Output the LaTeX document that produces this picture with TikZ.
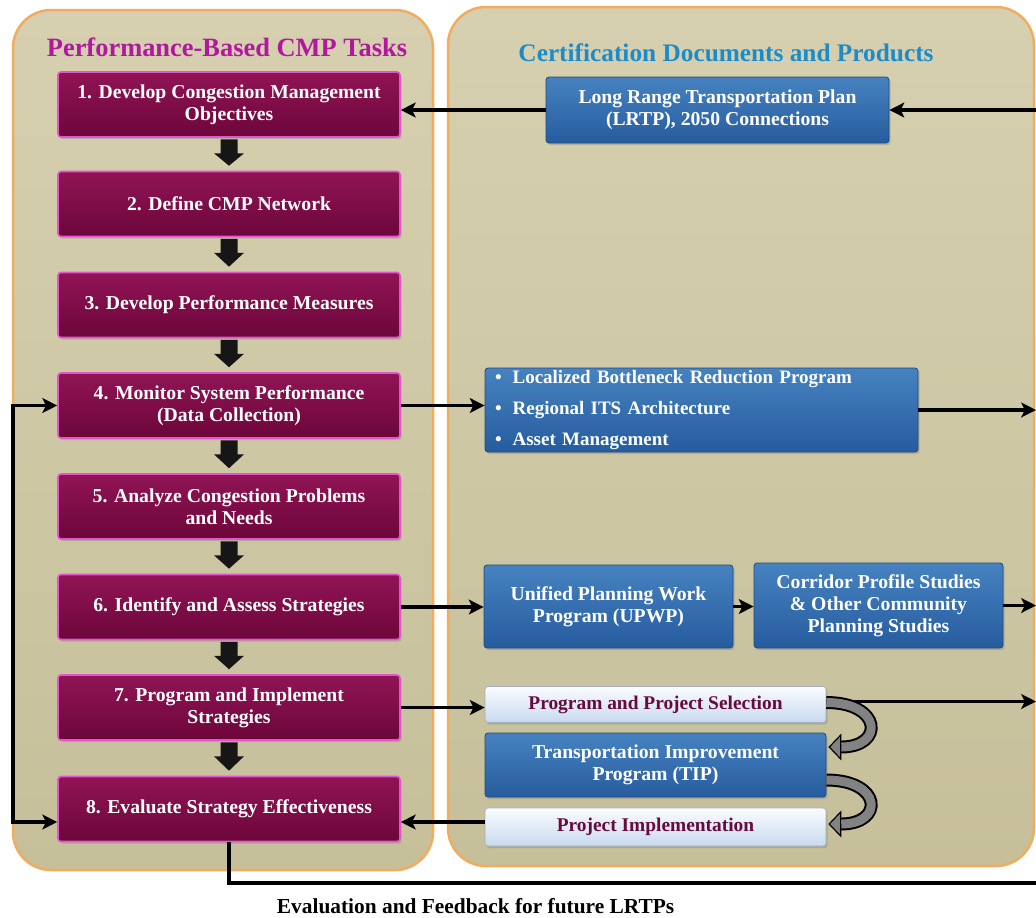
\documentclass[tikz,border=0pt]{standalone}
\usepackage{fontspec}
\setmainfont{Liberation Serif}
\usetikzlibrary{arrows.meta,calc,shadings,shadows}
\newdimen\PX \PX=0.025cm
\definecolor{panelA}{RGB}{214,208,176}
\definecolor{panelB}{RGB}{198,191,154}
\definecolor{panelborder}{RGB}{240,172,95}
\definecolor{ptop}{RGB}{145,20,85}
\definecolor{pbot}{RGB}{108,6,58}
\definecolor{pborder}{RGB}{228,85,205}
\definecolor{btop}{RGB}{70,130,192}
\definecolor{bbot}{RGB}{38,92,158}
\definecolor{bborder}{RGB}{30,75,130}
\definecolor{ltop}{RGB}{250,252,255}
\definecolor{lbot}{RGB}{200,218,238}
\definecolor{maroontxt}{RGB}{105,10,62}
\definecolor{ltitle}{RGB}{178,24,158}
\definecolor{rtitle}{RGB}{28,140,200}
\definecolor{grayarrow}{RGB}{130,130,130}
\tikzset{
  panelbox/.style={rounded corners=38\PX, draw=panelborder, line width=2.5\PX, top color=panelA, bottom color=panelB},
  shadowed/.style={drop shadow={shadow xshift=1.2pt, shadow yshift=-1.5pt, opacity=0.35}},
  pbox/.style={rounded corners=3\PX, draw=pborder, line width=1.6\PX, top color=ptop, bottom color=pbot, text=white,
    font=\bfseries\fontsize{14}{15.5}\selectfont, align=center, minimum width=342\PX, minimum height=65\PX, inner sep=0pt, shadowed},
  bbox/.style={rounded corners=3\PX, draw=bborder, line width=0.8\PX, top color=btop, bottom color=bbot, text=white,
    font=\bfseries\fontsize{14}{15.5}\selectfont, align=center, inner sep=0pt, shadowed},
  lbox/.style={rounded corners=3\PX, draw=lbot!80!black, line width=0.6\PX, top color=ltop, bottom color=lbot, text=maroontxt,
    font=\bfseries\fontsize{13.8}{15.5}\selectfont, align=center, minimum width=341\PX, inner sep=0pt, shadowed},
  conn/.style={line width=2.5pt, black, -{Stealth[length=10.5pt,width=10.5pt,inset=2.5pt]}},
  plain/.style={line width=2.7pt, black},
  dnarrow/.style={fill={rgb,255:red,22;green,22;blue,22}},
  curvout/.style={line width=9.2pt, black, -{Triangle[length=9.2pt,width=19pt,fill=grayarrow,line width=0.85pt]}},
  curvin/.style={line width=6.4pt, grayarrow, shorten >=9.2pt},
}
\begin{document}
\begin{tikzpicture}[x=0.025cm,y=-0.025cm]
\useasboundingbox (0,0) rectangle (1036,917);
% panels
\draw[panelbox] (13,10) rectangle (433,870);
\draw[panelbox] (448,7) rectangle (1034,866);
% titles
\node[font=\bfseries\fontsize{18.8}{20}\selectfont, text=ltitle] (tl) at (227,47) {Performance-Based CMP Tasks};
\node[font=\bfseries\fontsize{18}{20}\selectfont, text=rtitle] (tr) at (726,53) {Certification Documents and Products};
% purple task boxes
\node[pbox] (b1) at (229,104.5) {1. Develop Congestion Management\\Objectives};
\node[pbox] (b2) at (229,204) {2. Define CMP Network};
\node[pbox] (b3) at (229,305) {3. Develop Performance Measures};
\node[pbox] (b4) at (229,405.5) {4. Monitor System Performance\\(Data Collection)};
\node[pbox] (b5) at (229,506.5) {5. Analyze Congestion Problems\\and Needs};
\node[pbox] (b6) at (229,607) {6. Identify and Assess Strategies};
\node[pbox] (b7) at (229,707.5) {7. Program and Implement\\Strategies};
\node[pbox] (b8) at (229,809) {8. Evaluate Strategy Effectiveness};
% down block arrows
\foreach \i/\j in {1/2,2/3,3/4,4/5,5/6,6/7,7/8}{
  \fill[dnarrow] ($(b\i.south)+(-8.5,1.5)$) -- ++(17,0) -- ++(0,14) -- ++(6.5,0) -- ($(b\j.north)+(0,-5)$) -- ($(b\i.south)+(-15,15.5)$) -- ++(6.5,0) -- cycle;
}
% right side boxes
\node[bbox, minimum width=343\PX, minimum height=66\PX] (lrtp) at (717.5,110) {Long Range Transportation Plan\\(LRTP), 2050 Connections};
\node[bbox, minimum height=84\PX, text width=413\PX, inner xsep=10\PX, align=left, font=\bfseries\fontsize{13.5}{22}\selectfont] (bul) at (701.5,410)
  {\textbullet\hspace{11\PX}Localized Bottleneck Reduction Program\\\textbullet\hspace{11\PX}Regional ITS Architecture\\\textbullet\hspace{11\PX}Asset Management};
\node[bbox, minimum width=249\PX, minimum height=83\PX] (upwp) at (608.5,606.5) {Unified Planning Work\\Program (UPWP)};
\node[bbox, minimum width=249\PX, minimum height=85\PX] (cor) at (878.5,605.5) {Corridor Profile Studies\\\& Other Community\\Planning Studies};
\node[lbox, minimum height=36\PX] (ps) at (655.5,704.5) {Program and Project Selection};
\node[bbox, minimum width=341\PX, minimum height=64\PX] (tip) at (655.5,765) {Transportation Improvement\\Program (TIP)};
\node[lbox, minimum height=38\PX] (pi) at (655.5,827) {Project Implementation};
% edge coordinates
\coordinate (R) at (1036,0);
\coordinate (L) at (13,600);
\coordinate (bot) at (1036,883);
% connectors
\draw[conn] (R |- lrtp.east) -- (lrtp.east);
\draw[conn] (lrtp.west) -- (lrtp.west -| b1.east);
\draw[conn] (b4.east) -- (b4.east -| bul.west);
\draw[conn] (bul.east) -- (bul.east -| R);
\draw[conn] (b6.east) -- (b6.east -| upwp.west);
\draw[conn] (upwp.east) -- (upwp.east -| cor.west);
\draw[conn] (cor.east) -- (cor.east -| R);
\draw[conn] (b7.east) -- (b7.east -| ps.west);
\draw[conn] ($(ps.east)+(0,-3)$) -- ($(ps.east -| R)+(0,-3)$);
\draw[conn] ($(pi.west)+(0,-5)$) -- ($(pi.west -| b8.east)+(0,-5)$);
\draw[conn] (L) |- (b4.west);
\draw[conn] (L) |- ($(b8.west)+(0,13)$);
\draw[plain] (b8.south) |- (bot);
% curved grey arrows
\draw[curvout] ($(ps.east)+(0,-2)$) .. controls +(56,0) and +(56,0) .. ($(tip.east)+(2,-18)$);
\draw[curvin] ($(ps.east)+(0,-2)$) .. controls +(56,0) and +(56,0) .. ($(tip.east)+(2,-18)$);
\draw[curvout] ($(tip.east)+(0,15)$) .. controls +(56,0) and +(56,0) .. ($(pi.east)+(2,-3)$);
\draw[curvin] ($(tip.east)+(0,15)$) .. controls +(56,0) and +(56,0) .. ($(pi.east)+(2,-3)$);
% bottom label
\node[anchor=west, font=\bfseries\fontsize{15.2}{17}\selectfont] (fb) at (272,906) {Evaluation and Feedback for future LRTPs};
\end{tikzpicture}
\end{document}
